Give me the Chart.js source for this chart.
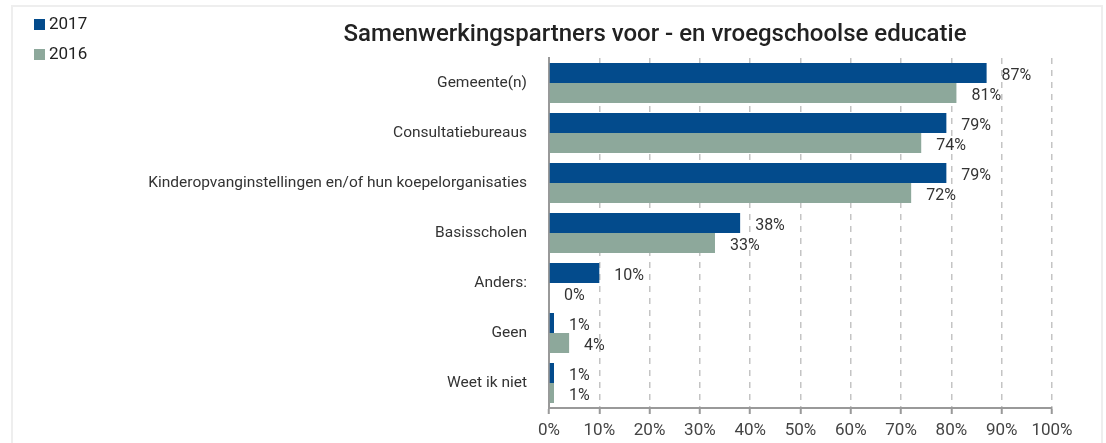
<!DOCTYPE html>
<html lang="nl">
<head>
<meta charset="UTF-8">
<title>Samenwerkingspartners voor - en vroegschoolse educatie</title>
<script src="https://cdn.jsdelivr.net/npm/chart.js"></script>
<style>
  html, body { margin: 0; padding: 0; background: #fff; }
  #wrap { position: relative; width: 1106px; height: 443px; }
  #frame { position: absolute; left: 11px; top: 5px; width: 1092px; height: 450px; border: 2px solid #eeeeee; box-sizing: border-box; }
  canvas { position: absolute; left: 0; top: 0; }
</style>
</head>
<body>
<div id="wrap">
  <div id="frame"></div>
  <canvas id="chart" width="1106" height="443"></canvas>
</div>
<script>
  // chart data
  const categories = [
    'Gemeente(n)',
    'Consultatiebureaus',
    'Kinderopvanginstellingen en/of hun koepelorganisaties',
    'Basisscholen',
    'Anders:',
    'Geen',
    'Weet ik niet'
  ];
  const values2017 = [87, 79, 79, 38, 10, 1, 1];
  const values2016 = [81, 74, 72, 33, 0, 4, 1];
  const xTicks = [0, 10, 20, 30, 40, 50, 60, 70, 80, 90, 100];

  const titleText = 'Samenwerkingspartners voor - en vroegschoolse educatie';
  const fontName = 'Roboto, "DejaVu Sans", sans-serif';

  // title, legend and value labels drawn by hand
  const extras = {
    id: 'extras',
    afterDatasetsDraw(chart) {
      const ctx = chart.ctx;
      ctx.save();

      // title
      ctx.fillStyle = '#222';
      ctx.font = '500 24px ' + fontName;
      ctx.textAlign = 'center';
      ctx.textBaseline = 'middle';
      ctx.fillText(titleText, 655, 35);

      // legend
      ctx.font = '17px ' + fontName;
      ctx.textAlign = 'left';
      chart.data.datasets.forEach((ds, i) => {
        const y = 25 + i * 30;
        ctx.fillStyle = ds.backgroundColor;
        ctx.fillRect(34, y - 6, 11, 11);
        ctx.fillStyle = '#222';
        ctx.fillText(ds.label, 49, y);
      });

      // value labels
      ctx.font = '16px ' + fontName;
      ctx.fillStyle = '#333';
      chart.data.datasets.forEach((ds, i) => {
        const meta = chart.getDatasetMeta(i);
        meta.data.forEach((bar, j) => {
          ctx.fillText(ds.data[j] + '%', bar.x + 15, bar.y + 3);
        });
      });
      ctx.restore();
    }
  };

  new Chart(document.getElementById('chart').getContext('2d'), {
    type: 'bar',
    data: {
      labels: categories,
      datasets: [
        { label: '2017', data: values2017, backgroundColor: '#034b8c' },
        { label: '2016', data: values2016, backgroundColor: '#8da89b' }
      ]
    },
    options: {
      indexAxis: 'y',
      responsive: false,
      animation: false,
      maintainAspectRatio: false,
      categoryPercentage: 0.8,
      barPercentage: 1.0,
      layout: { padding: { top: 58, right: 54, left: 0, bottom: 0 } },
      plugins: {
        legend: { display: false },
        title: { display: false },
        tooltip: { enabled: false }
      },
      scales: {
        x: {
          min: 0,
          max: 100,
          afterBuildTicks(scale) {
            scale.ticks = xTicks.map(v => ({ value: v }));
          },
          afterFit(scale) { scale.height = 35; },
          ticks: {
            color: '#444',
            font: { family: fontName, size: 17 },
            padding: 7,
            maxRotation: 0,
            callback: v => v + '%'
          },
          grid: {
            color: '#c4c4c4',
            lineWidth: 1.5,
            tickLength: 6,
            tickColor: '#999',
            tickBorderDash: [],
            tickWidth: 2
          },
          border: { display: true, color: '#999', width: 2, dash: [6, 6] }
        },
        y: {
          afterFit(scale) { scale.width = 549; },
          ticks: {
            color: '#333',
            font: { family: fontName, size: 15.5 },
            padding: 14
          },
          grid: { display: false },
          border: { display: true, color: '#999', width: 2 }
        }
      }
    },
    plugins: [extras]
  });
</script>
</body>
</html>
